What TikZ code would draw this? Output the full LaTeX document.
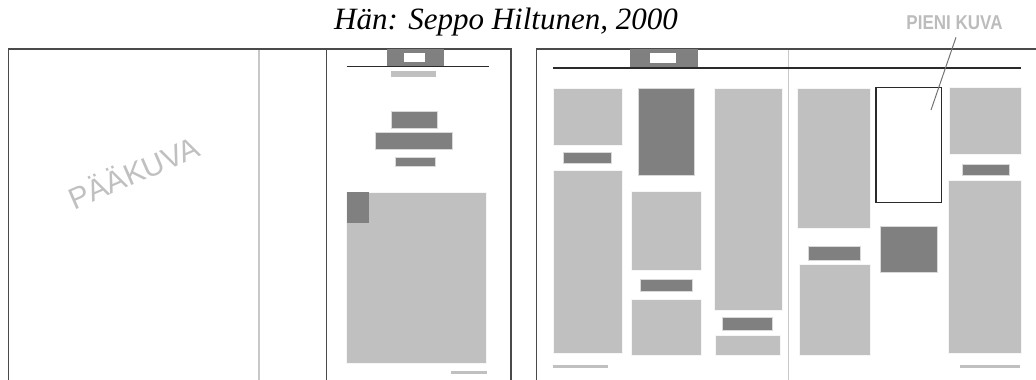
\documentclass[tikz,border=0pt]{standalone}
\usepackage{fontspec}
\setmainfont{Liberation Serif}
\newfontfamily\arialfont{Liberation Sans}
\definecolor{darkbox}{HTML}{808080}
\definecolor{lightbox}{HTML}{C0C0C0}
\definecolor{framecol}{HTML}{4A4A4A}
\definecolor{rulecol}{HTML}{2A2A2A}
\definecolor{midcol}{HTML}{C8C8C8}
\definecolor{labelcol}{HTML}{BCBCBC}
\tikzset{
  framel/.style={draw=framecol,line width=1.3pt},
  rulel/.style={draw=rulecol,line width=1.1pt},
  midl/.style={draw=midcol,line width=1.4pt},
  lbox/.style={fill=lightbox,draw=white!85!lightbox,line width=0.6pt},
  dbox/.style={fill=darkbox,draw=white!70!darkbox,line width=0.6pt},
  outl/.style={draw=rulecol,line width=1.2pt,fill=white},
  leader/.style={draw=darkbox!90!black,line width=1pt},
}
\begin{document}
\begin{tikzpicture}[x=1pt,y=-1pt]
\useasboundingbox (0,0) rectangle (1036,380);
% title
\node[anchor=base,font=\fontsize{31}{36}\selectfont\itshape,inner sep=0] (title) at (506,29.3) {Hän: Seppo Hiltunen, 2000};

% ---------- left spread ----------
\draw[midl] (259,49) -- (259,381);
\draw[framel] (8.3,381) -- (8.3,49) -- (511,49) -- (511,381);
\draw[framel] (326.7,49) -- (326.7,381);
\node[anchor=base west,rotate=23.5,text=lightbox,inner sep=0] (paakuva) at (74,211) {\arialfont\fontsize{30}{31}\selectfont PÄÄKUVA};
% header
\fill[darkbox] (386.7,49) rectangle (444,66.7);
\fill[white] (403.7,52.7) rectangle (424.7,62.3);
\draw[rulel] (346.7,66.7) -- (489,66.7);
\fill[lightbox] (391.3,71) rectangle (435.7,77.3);
\path[dbox] (391.7,111.7) rectangle (437.7,128);
\path[dbox] (375.7,132) rectangle (452.3,149.3);
\path[dbox] (395.3,157.7) rectangle (435.7,166);
\path[lbox] (346.7,192) rectangle (486.7,363.3);
\fill[darkbox] (346.7,192) rectangle (368.7,223.3);
\fill[lightbox] (451,371) rectangle (486.7,373.7);

% ---------- right spread ----------
\draw[midl] (788.5,49) -- (788.5,381);
\draw[framel] (536.7,381) -- (536.7,49) -- (1037,49);
\fill[darkbox] (630,49) rectangle (697.7,66.7);
\fill[white] (650.3,53.3) rectangle (676,63.3);
\draw[rulel] (553.3,68) -- (1021,68);
% column 1
\path[lbox] (553.3,88.3) rectangle (622.3,145.3);
\path[dbox] (563.3,152) rectangle (611.7,163.7);
\path[lbox] (553.3,170) rectangle (622.3,353.7);
% column 2
\path[dbox] (638.7,88.3) rectangle (694,175.7);
\path[lbox] (631,191.7) rectangle (701.7,270.7);
\path[dbox] (640.7,279.3) rectangle (692,291.7);
\path[lbox] (631,299) rectangle (701.7,355);
% column 3
\path[lbox] (714,88.3) rectangle (782,310);
\path[dbox] (722.3,317.3) rectangle (772.3,330.7);
\path[lbox] (715,335.7) rectangle (780.7,355);
\fill[lightbox] (553.3,365) rectangle (608,368.3);
% column 4
\path[lbox] (797.7,88.3) rectangle (870.7,228.3);
\path[dbox] (808.7,246.7) rectangle (860.7,260);
\path[lbox] (799,264) rectangle (870.7,355);
% column 5
\path[outl] (876,87.3) rectangle (941.7,202.3);
\path[dbox] (880.3,226) rectangle (937.3,272.3);
% column 6
\path[lbox] (949.7,87.3) rectangle (1021,154);
\path[dbox] (962,164) rectangle (1009,175.7);
\path[lbox] (948.3,180) rectangle (1021,353.7);
\fill[lightbox] (960.3,365) rectangle (1020,368.3);

% label
\node[anchor=base,text=labelcol,inner sep=0] (pieni) at (954.5,29) {\arialfont\bfseries\fontsize{20}{21}\selectfont\scalebox{0.85}[1]{PIENI KUVA}};
\coordinate (pienitip) at (931,110);
\coordinate (pienistart) at (956,37.3);
\draw[leader] (pienistart) -- (pienitip);
\end{tikzpicture}
\end{document}
